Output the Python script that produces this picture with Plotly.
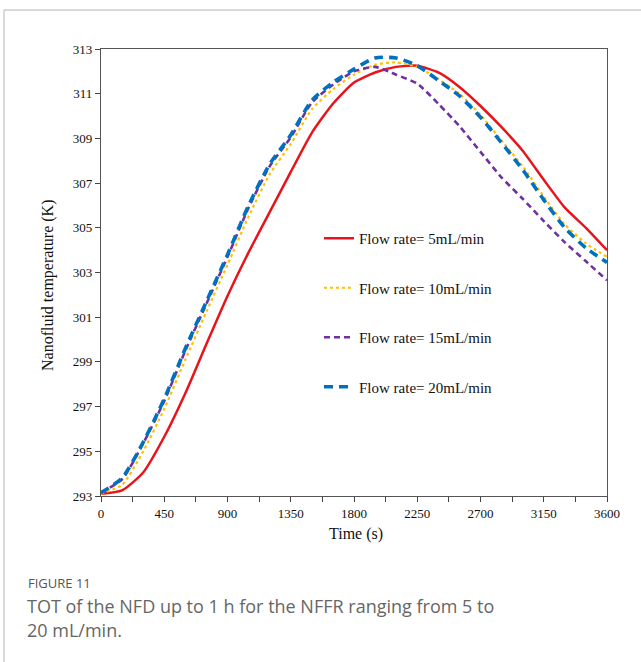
import plotly.graph_objects as go

time_s = [0, 150, 300, 450, 600, 750, 900, 1050, 1200, 1350, 1500, 1650, 1800,
          1950, 2100, 2250, 2400, 2550, 2700, 2850, 3000, 3150, 3300, 3450, 3600]

temp_5 = [293.1, 293.25, 294.05, 295.65, 297.6, 299.8, 301.95, 303.9, 305.7, 307.5,
          309.25, 310.55, 311.5, 311.95, 312.2, 312.25, 311.95, 311.3, 310.45,
          309.5, 308.45, 307.15, 305.9, 305.0, 304.0]
temp_10 = [293.1, 293.5, 295.0, 296.9, 299.1, 301.25, 303.35, 305.5, 307.4, 308.75,
           310.3, 311.2, 311.85, 312.3, 312.4, 312.2, 311.65, 311.0, 310.05,
           308.9, 307.75, 306.4, 305.15, 304.3, 303.7]
temp_15 = [293.15, 293.75, 295.35, 297.25, 299.5, 301.6, 303.7, 305.9, 307.75, 309.05,
           310.6, 311.4, 312.0, 312.2, 311.85, 311.45, 310.55, 309.55, 308.4,
           307.25, 306.3, 305.3, 304.35, 303.5, 302.65]
temp_20 = [293.15, 293.8, 295.4, 297.35, 299.6, 301.7, 303.8, 306.0, 307.85, 309.15,
           310.7, 311.5, 312.1, 312.6, 312.6, 312.25, 311.6, 310.9, 309.95,
           308.8, 307.6, 306.25, 305.0, 304.1, 303.45]

series_names = ["Flow rate= 5mL/min", "Flow rate= 10mL/min",
                "Flow rate= 15mL/min", "Flow rate= 20mL/min"]
x_tick_vals = [0, 450, 900, 1350, 1800, 2250, 2700, 3150, 3600]
y_tick_vals = [293, 295, 297, 299, 301, 303, 305, 307, 309, 311, 313]

serif = "Liberation Serif"
styles = [
    dict(color="#E8141B", width=2.5, dash="solid"),
    dict(color="#FFC000", width=2.2, dash="dot"),
    dict(color="#7030A0", width=2.6, dash="6px,4px"),
    dict(color="#0070C0", width=3.6, dash="9px,6px"),
]

fig = go.Figure()
for i, (name, vals) in enumerate(zip(series_names, [temp_5, temp_10, temp_15, temp_20])):
    fig.add_trace(go.Scatter(
        x=time_s, y=vals, mode="lines", name=name, legendgroup=f"g{i}",
        line=dict(shape="spline", smoothing=0.6, **styles[i]),
    ))

L, R, T, B = 101, 34, 49, 166
W, H = 641, 662
pw, ph = W - L - R, H - T - B

def px_x(p):
    return (p - L) / pw

def px_y(p):
    return (H - B - p) / ph

fig.update_layout(
    width=W, height=H,
    margin=dict(l=L, r=R, t=T, b=B, pad=0),
    paper_bgcolor="white", plot_bgcolor="white",
    font=dict(family=serif, size=13, color="#111"),
    showlegend=True,
    legend=dict(x=px_x(319), y=px_y(222), xanchor="left", yanchor="top",
                bgcolor="rgba(0,0,0,0)", borderwidth=0,
                font=dict(family=serif, size=15, color="#111"),
                tracegroupgap=27, traceorder="grouped"),
    xaxis=dict(range=[0, 3600], tickvals=x_tick_vals, ticks="outside", ticklen=5,
               tickcolor="#444", tickwidth=1, showgrid=False, zeroline=False,
               showline=True, linecolor="#555", linewidth=1.3, mirror=True,
               tickfont=dict(family=serif, size=13, color="#111"),
               minor=dict(dtick=225, tick0=0, ticks="outside", ticklen=5, tickcolor="#444")),
    yaxis=dict(range=[293, 313], tickvals=y_tick_vals, ticks="outside", ticklen=5,
               tickcolor="#444", tickwidth=1, showgrid=False, zeroline=False,
               showline=True, linecolor="#555", linewidth=1.3, mirror=True,
               tickfont=dict(family=serif, size=13, color="#111")),
)

fig.add_annotation(text="Time (s)", xref="paper", yref="paper", x=px_x(356), y=px_y(545),
                   showarrow=False, font=dict(family=serif, size=16, color="#111"))
fig.add_annotation(text="Nanofluid temperature (K)", xref="paper", yref="paper",
                   x=px_x(37), y=px_y(286), textangle=-90, showarrow=False,
                   font=dict(family=serif, size=16, color="#111"))
fig.add_annotation(text="FIGURE 11", xref="paper", yref="paper", x=px_x(26), y=px_y(583),
                   xanchor="left", yanchor="middle", showarrow=False,
                   font=dict(family="Open Sans", size=13, color="#555"))
fig.add_annotation(text="TOT of the NFD up to 1 h for the NFFR ranging from 5 to",
                   xref="paper", yref="paper", x=px_x(25), y=px_y(606),
                   xanchor="left", yanchor="middle", showarrow=False,
                   font=dict(family="Open Sans", size=18, color="#666"))
fig.add_annotation(text="20 mL/min.",
                   xref="paper", yref="paper", x=px_x(25), y=px_y(630),
                   xanchor="left", yanchor="middle", showarrow=False,
                   font=dict(family="Open Sans", size=18, color="#666"))

# page frame lines
fig.add_shape(type="line", xref="paper", yref="paper", x0=px_x(4), x1=px_x(641),
              y0=px_y(10), y1=px_y(10), line=dict(color="#cccccc", width=1.5))
fig.add_shape(type="line", xref="paper", yref="paper", x0=px_x(4), x1=px_x(4),
              y0=px_y(10), y1=px_y(662), line=dict(color="#cccccc", width=1.5))

fig.write_html("out.html")
